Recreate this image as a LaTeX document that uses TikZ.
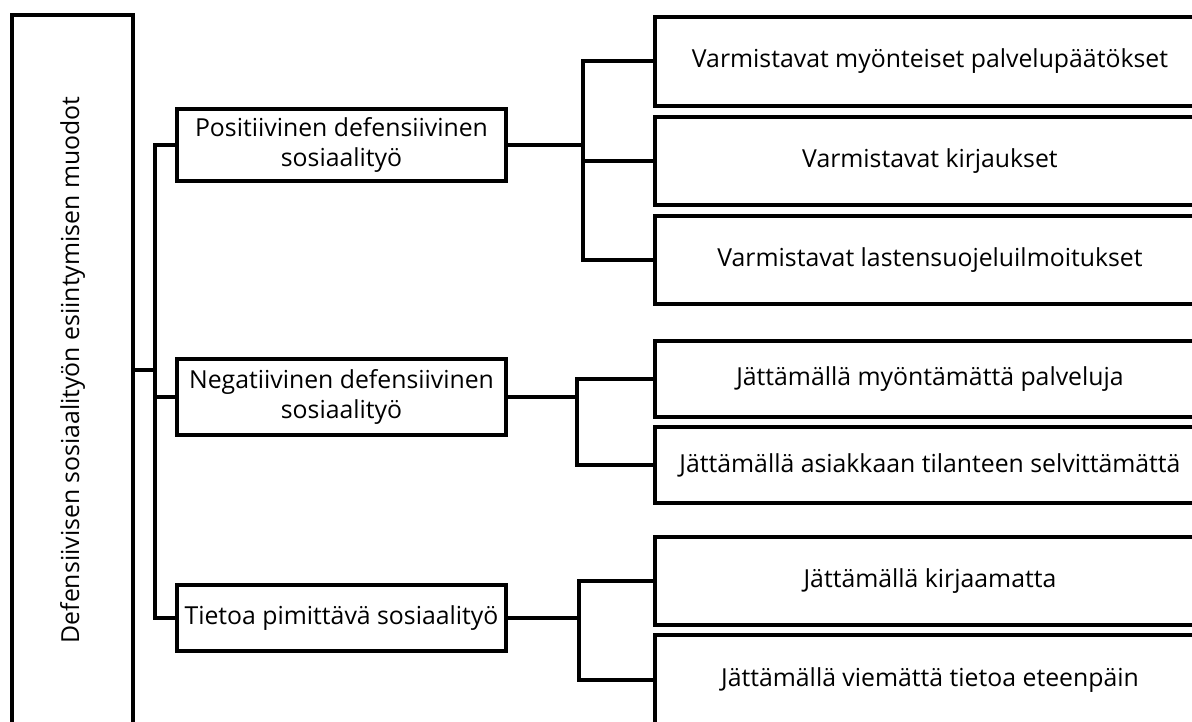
\documentclass[tikz,border=0pt]{standalone}
\usepackage{fontspec}
\setmainfont{Open Sans}
\begin{document}
\begin{tikzpicture}[>=latex,line join=miter,line width=4bp,
  box/.style={draw,inner sep=0pt,align=center,font=\fontsize{24.8bp}{30bp}\selectfont}]
%%
\useasboundingbox (0bp,0bp) rectangle (1192bp,722bp);
\clip (0bp,0bp) rectangle (1192bp,722bp);
\node (node_0) at (72.5bp,352.0bp) [box,rotate=90,minimum width=710bp,minimum height=121bp] {Defensiivisen sosiaalityön esiintymisen muodot};
  \node (node_1) at (341.5bp,577.0bp) [box,minimum width=329bp,minimum height=72bp] {Positiivinen defensiivinen\\sosiaalityö};
  \node (node_2) at (341.5bp,325.0bp) [box,minimum width=329bp,minimum height=76bp] {Negatiivinen defensiivinen\\sosiaalityö};
  \node (node_3) at (341.5bp,104.0bp) [box,minimum width=329bp,minimum height=66bp] {Tietoa pimittävä sosiaalityö};
  \node (node_4) at (930.0bp,660.5bp) [box,minimum width=550bp,minimum height=89bp] {Varmistavat myönteiset palvelupäätökset};
  \node (node_5) at (930.0bp,561.0bp) [box,minimum width=550bp,minimum height=88bp] {Varmistavat kirjaukset};
  \node (node_6) at (930.0bp,462.0bp) [box,minimum width=550bp,minimum height=88bp] {Varmistavat lastensuojeluilmoitukset};
  \node (node_7) at (930.0bp,343.0bp) [box,minimum width=550bp,minimum height=76bp] {Jättämällä myöntämättä palveluja};
  \node (node_8) at (930.0bp,257.0bp) [box,minimum width=550bp,minimum height=76bp] {Jättämällä asiakkaan tilanteen selvittämättä};
  \node (node_9) at (930.0bp,141.0bp) [box,minimum width=550bp,minimum height=88bp] {Jättämällä kirjaamatta};
  \node (node_10) at (930.0bp,42.0bp) [box,minimum width=550bp,minimum height=90bp] {Jättämällä viemättä tietoa eteenpäin};
%
\coordinate (bus_0) at (155.0bp,352.0bp);
  \coordinate (bus_1) at (583.0bp,577.0bp);
  \coordinate (bus_2) at (577.0bp,325.0bp);
  \coordinate (bus_3) at (579.0bp,104.0bp);
%
\draw [black] (node_0.south) -- (bus_0);
  \draw [black] (node_1.west) -| (bus_0) |- (node_3.west);
  \draw [black] (bus_0 |- node_2) -- (node_2.west);
  \draw [black] (node_1.east) -- (bus_1);
  \draw [black] (node_4.west) -| (bus_1) |- (node_6.west);
  \draw [black] (bus_1 |- node_5) -- (node_5.west);
  \draw [black] (node_2.east) -- (bus_2);
  \draw [black] (node_7.west) -| (bus_2) |- (node_8.west);
  \draw [black] (node_3.east) -- (bus_3);
  \draw [black] (node_9.west) -| (bus_3) |- (node_10.west);
%
\end{tikzpicture}
\end{document}
